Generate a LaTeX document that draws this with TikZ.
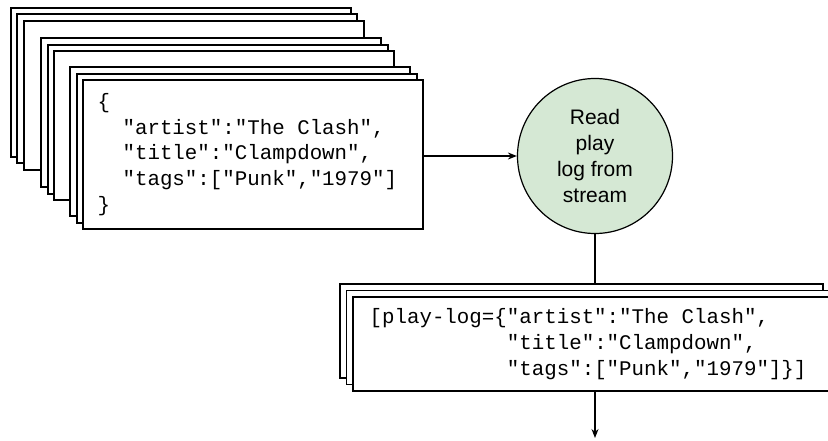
\documentclass[tikz,border=0pt]{standalone}
\usepackage{fontspec}
\setsansfont{Liberation Sans}
\setmonofont{Liberation Mono}
\usepackage{tikz}
\usetikzlibrary{arrows.meta,positioning}

\definecolor{readgreen}{HTML}{D5E8D4}

\begin{document}
\begin{tikzpicture}[x=1pt, y=1pt,
    card/.style={draw, fill=white, line width=1.2pt, minimum width=340pt, minimum height=149pt, inner sep=0pt},
    logbox/.style={draw, fill=white, line width=1.2pt, minimum width=483pt, minimum height=94pt, inner sep=0pt},
    code/.style={font=\ttfamily\fontsize{20.8}{25.8}\selectfont, align=left, inner sep=0pt},
    stage/.style={circle, draw, fill=readgreen, line width=1.2pt, minimum size=155pt, inner sep=0pt, align=center, font=\sffamily\fontsize{21}{26}\selectfont},
    link/.style={line width=1.2pt}]
    \useasboundingbox (0,0) rectangle (828,440);
    \clip (0,0) rectangle (828,440);

    % Stack of incoming play logs
    \node[card] (card9) at (181,357.5) {};
    \node[card] (card8) at (187,351.5) {};
    \node[card] (card7) at (194,344.5) {};
    \node[card] (card6) at (211,327.5) {};
    \node[card] (card5) at (218,320.5) {};
    \node[card] (card4) at (224,314.5) {};
    \node[card] (card3) at (240,298.5) {};
    \node[card] (card2) at (247,291.5) {};
    \node[card] (card1) at (253,285.5) {};
    \node[code, right=15pt of card1.west] (cardtext) {\{\\\phantom{xx}"artist":"The Clash",\\\phantom{xx}"title":"Clampdown",\\\phantom{xx}"tags":["Punk","1979"]\\\}};

    % Reading step
    \node[stage] (readlog) at (595,284) {Read\\play\\log from\\stream};
    \draw[link, -{Stealth[length=9pt,width=7pt]}] (readlog.west -| card1.east) -- (readlog.west);

    % Parsed play logs
    \node[logbox] (plog3) at (581.5,109) {};
    \node[logbox] (plog2) at (588,102.5) {};
    \node[logbox] (plog1) at (594.5,96) {};
    \node[code, right=17pt of plog1.west] (plogtext) {[play-log=\{"artist":"The Clash",\\\phantom{[play-log=\{}"title":"Clampdown",\\\phantom{[play-log=\{}"tags":["Punk","1979"]\}]};
    \draw[link] (readlog.south) -- (readlog.south |- plog3.north);

    % Out to the next step
    \coordinate (nextstep) at (595,2);
    \draw[link, -{Stealth[length=9pt,width=7pt]}] (plog1.south -| nextstep) -- (nextstep);
\end{tikzpicture}
\end{document}
